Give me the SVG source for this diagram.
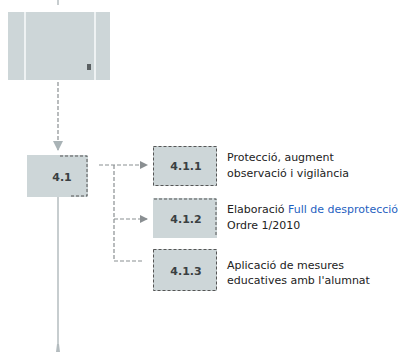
<svg xmlns="http://www.w3.org/2000/svg" width="419" height="358" viewBox="0 0 419 358">
<style>
.box{fill:#cdd6d8;}
.dash{fill:none;stroke:#555;stroke-width:1;stroke-dasharray:3 2;}
.conn{fill:none;stroke:#8a8f92;stroke-width:1.2;stroke-dasharray:4 2;}
.solid{fill:none;stroke:#b4bcbf;stroke-width:1.5;}
.num{font-family:"DejaVu Sans",Verdana,sans-serif;font-size:11px;font-weight:bold;fill:#3a3f42;text-anchor:middle;}
.lbl{font-family:"DejaVu Sans",Verdana,sans-serif;font-size:11px;fill:#222;}
.blue{fill:#1f5fbf;}
</style>
<defs>
<marker id="ah" markerWidth="8" markerHeight="8" refX="7" refY="4" orient="auto" markerUnits="userSpaceOnUse">
<path d="M0,0 L8,4 L0,8 Z" fill="#8a8f92"/>
</marker>
<marker id="ahd" markerWidth="10" markerHeight="10" refX="9" refY="5" orient="auto" markerUnits="userSpaceOnUse">
<path d="M0,0 L10,5 L0,10 Z" fill="#a9b3b6"/>
</marker>
</defs>
<g id="top">
<rect class="box" x="8" y="12" width="102" height="68"/>
<rect x="24" y="12" width="2" height="68" fill="#eef2f3"/>
<rect x="94" y="12" width="2" height="68" fill="#eef2f3"/>
<rect x="87" y="64" width="4" height="6" fill="#5a6062"/>
</g>
<g id="connectors">
<line x1="58" y1="0" x2="58" y2="5" class="solid"/>
<line x1="58" y1="82" x2="58" y2="150" class="conn" marker-end="url(#ahd)"/>
<line x1="58" y1="197" x2="58" y2="350" class="solid"/>
<path d="M57,344 L59,344 L60,352 L56,352 Z" fill="#b4bcbf"/>
<line x1="99" y1="165" x2="147" y2="165" class="conn" marker-end="url(#ah)"/>
<line x1="114" y1="165" x2="114" y2="261" class="conn"/>
<line x1="114" y1="219" x2="147" y2="219" class="conn" marker-end="url(#ah)"/>
<line x1="114" y1="261" x2="144" y2="261" class="conn"/>
</g>
<g id="n41">
<rect class="box" x="27" y="155" width="61" height="42"/>
<path d="M60,156 L87,156 L87,196 L70,196" class="dash"/>
<text class="num" x="62" y="181">4.1</text>
</g>
<g id="n411">
<rect class="box" x="153" y="146" width="64" height="40"/>
<rect class="dash" x="153.5" y="146.5" width="63" height="39"/>
<text class="num" x="186" y="170">4.1.1</text>
<text class="lbl" x="227" y="161">Protecció, augment</text>
<text class="lbl" x="227" y="177">observació i vigilància</text>
</g>
<g id="n412">
<rect class="box" x="153" y="198" width="64" height="40"/>
<path d="M154,199 L216,199 L216,237" class="dash"/>
<text class="num" x="186" y="223">4.1.2</text>
<text class="lbl" x="227" y="213">Elaboració <tspan class="blue">Full de desprotecció</tspan></text>
<text class="lbl" x="227" y="229">Ordre 1/2010</text>
</g>
<g id="n413">
<rect class="box" x="153" y="249" width="64" height="42"/>
<rect class="dash" x="153.5" y="249.5" width="63" height="41"/>
<text class="num" x="186" y="275">4.1.3</text>
<text class="lbl" x="227" y="269">Aplicació de mesures</text>
<text class="lbl" x="227" y="284">educatives amb l'alumnat</text>
</g>
</svg>
